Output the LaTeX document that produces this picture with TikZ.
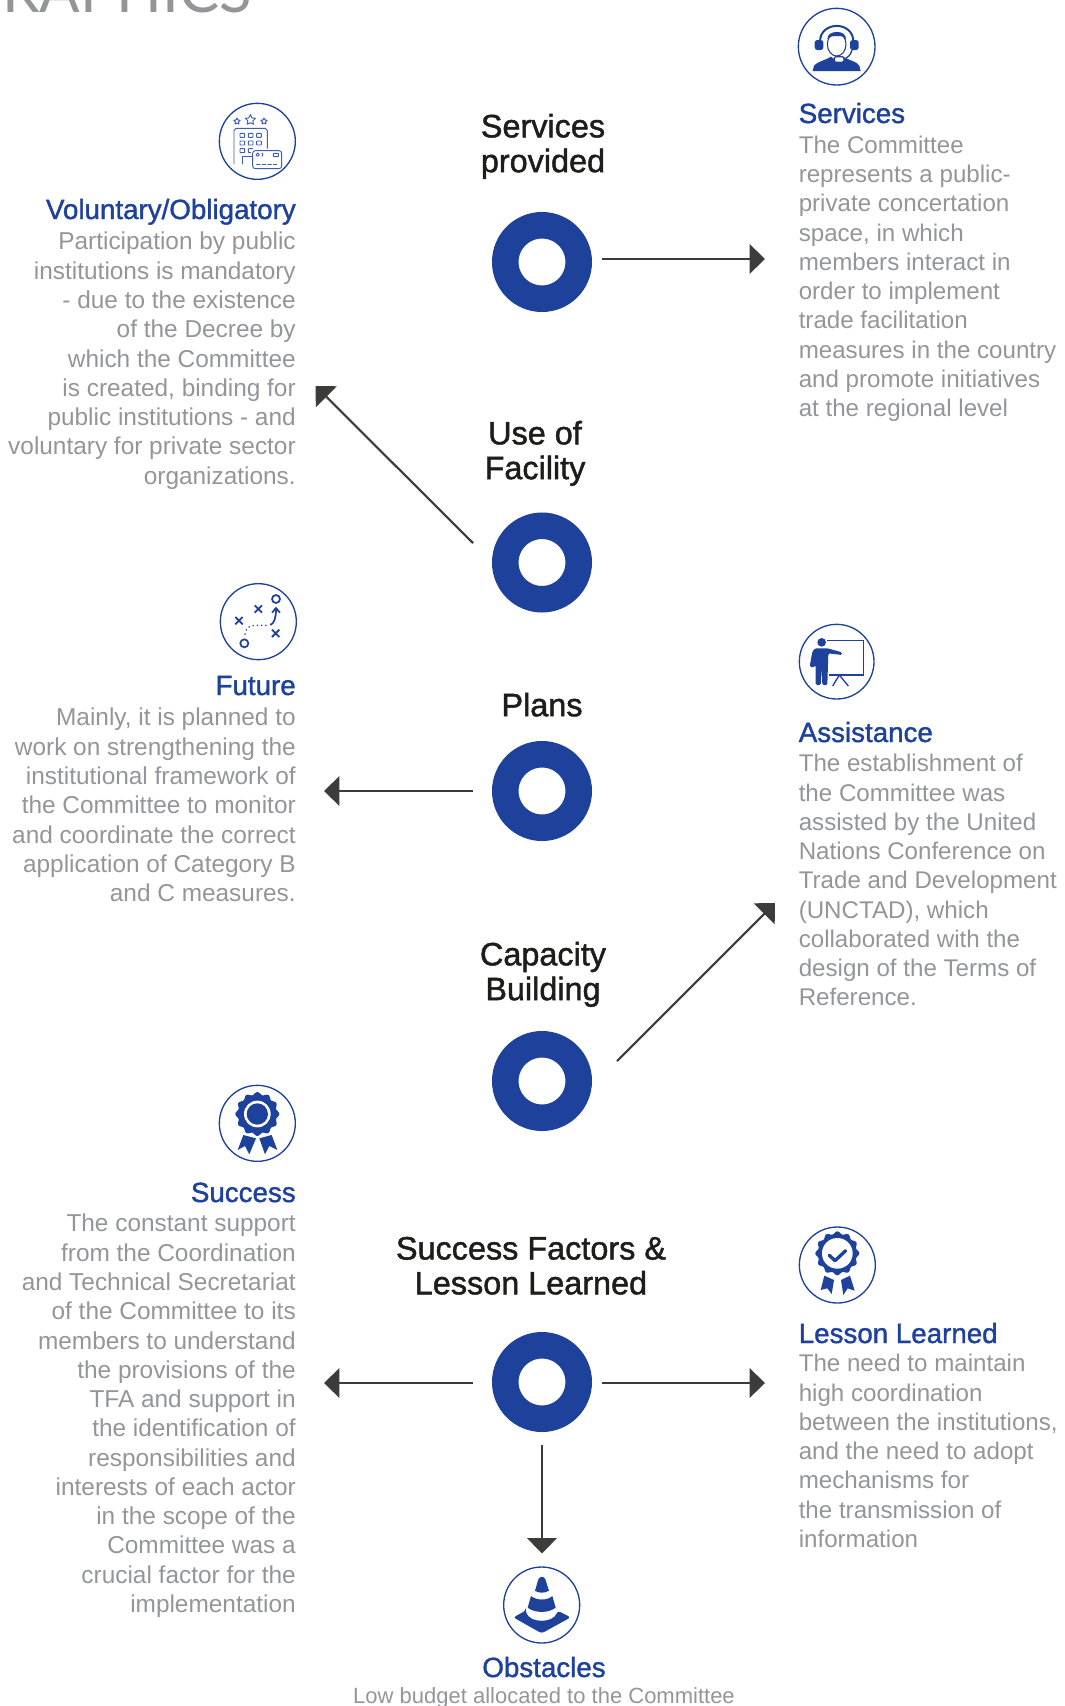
\documentclass[tikz,border=0pt]{standalone}
\usepackage{fontspec}
\usetikzlibrary{arrows.meta}
\setmainfont{Liberation Sans}
\newfontfamily\medfont[FakeBold=1.4]{Liberation Sans}
\newfontfamily\thinfont{Lato}
\definecolor{iblue}{HTML}{1E429B}
\definecolor{bodygray}{HTML}{939598}
\definecolor{headblack}{HTML}{1D1D1B}
\definecolor{arrowgray}{HTML}{3C3C3B}
\tikzset{
  x=0.75pt,y=-0.75pt,
  ring/.style={circle,draw=iblue,line width=19.9pt,fill=white,minimum size=55.1pt,inner sep=0pt,outer sep=0pt},
  linkarrow/.style={draw=arrowgray,line width=1.6pt,-{Triangle[length=11.5pt,width=22pt]}},
  bodyr/.style={anchor=north east,align=right,inner sep=0pt,text=bodygray,font=\fontsize{18.3pt}{21.95pt}\selectfont,execute at begin node=\strut},
  bodyl/.style={anchor=north west,align=left,inner sep=0pt,text=bodygray,font=\fontsize{18.1pt}{21.95pt}\selectfont,execute at begin node=\strut},
  bodyc/.style={anchor=base,inner sep=0pt,text=bodygray,font=\fontsize{16.5pt}{21.95pt}\selectfont},
  titler/.style={anchor=base east,inner sep=0pt,text=iblue,font=\medfont\fontsize{20.8pt}{24pt}\selectfont},
  titlel/.style={anchor=base west,inner sep=0pt,text=iblue,font=\medfont\fontsize{20.8pt}{24pt}\selectfont},
  titlec/.style={anchor=base,inner sep=0pt,text=iblue,font=\medfont\fontsize{20.8pt}{24pt}\selectfont},
  heading/.style={anchor=north,align=center,inner sep=0pt,text=headblack,font=\medfont\fontsize{24.3pt}{26.1pt}\selectfont,execute at begin node=\strut},
  iconframe/.style={draw=iblue,line width=1pt,fill=white},
  ifill/.style={fill=iblue,draw=none},
  thinline/.style={draw=iblue!85!white,line width=0.7pt,line join=round,line cap=round},
  crop/.style={shift={#1},x=0.25pt,y=-0.25pt},
}
\begin{document}
\begin{tikzpicture}
\useasboundingbox (0,0) rectangle (1064,1706);
\clip (0,0) rectangle (1064,1706);
% cropped page title
\node[anchor=base west,inner sep=0pt,text=bodygray,font=\thinfont\fontsize{45pt}{45pt}\selectfont] (pagetitle) at (-42,12.5) {GRAPHICS};
% rings
\node[ring] (r1) at (542,262) {};
\node[ring] (r2) at (542,562.5) {};
\node[ring] (r3) at (542,791) {};
\node[ring] (r4) at (542,1081) {};
\node[ring] (r5) at (542,1382) {};
% headings (top = baseline - 0.7 baselineskip)
\node[heading] (h1) at (543,113.6) {Services\\provided};
\node[heading] (h2) at (535,420.6) {Use of\\Facility};
\node[heading] (h3) at (542,691.6) {Plans};
\node[heading] (h4) at (543,941.6) {Capacity\\Building};
\node[heading] (h5) at (531,1236.6) {Success Factors \&\\Lesson Learned};
% free ends
\coordinate (e1) at (765,259);
\coordinate (e2) at (315.5,386);
\coordinate (e3) at (324,791);
\coordinate (e4) at (775,903);
\coordinate (e5l) at (324,1383);
\coordinate (e5r) at (765,1383);
\coordinate (e5d) at (542,1553.5);
% connectors
\draw[linkarrow] ([shift={(60,-3)}]r1.center) -- (e1);
\draw[linkarrow] ([shift={(-69,-19.5)}]r2.center) -- (e2);
\draw[linkarrow] ([shift={(-69,0)}]r3.center) -- (e3);
\draw[linkarrow] ([shift={(75,-20)}]r4.center) -- (e4);
\draw[linkarrow] ([shift={(-69,1)}]r5.center) -- (e5l);
\draw[linkarrow] ([shift={(60,1)}]r5.center) -- (e5r);
\draw[linkarrow] ([shift={(0,63)}]r5.center) -- (e5d);
% text blocks
\node[titler] (tv) at (296,219) {Voluntary/Obligatory};
\node[bodyr] (bv) at (296,232) {Participation by public\\institutions is mandatory\\- due to the existence\\of the Decree by\\which the Committee\\is created, binding for\\public institutions - and\\voluntary for private sector\\organizations.};
\node[titler] (tf) at (296,695) {Future};
\node[bodyr] (bf) at (296,708) {Mainly, it is planned to\\work on strengthening the\\institutional framework of\\the Committee to monitor\\and coordinate the correct\\application of Category B\\and C measures.};
\node[titler] (ts) at (296,1202) {Success};
\node[bodyr] (bs) at (296,1214) {The constant support\\from the Coordination\\and Technical Secretariat\\of the Committee to its\\members to understand\\the provisions of the\\TFA and support in\\the identification of\\responsibilities and\\interests of each actor\\in the scope of the\\Committee was a\\crucial factor for the\\implementation};
\node[titlel] (tsv) at (798.5,123) {Services};
\node[bodyl] (bsv) at (798.5,135.5) {The Committee\\represents a public-\\private concertation\\space, in which\\members interact in\\order to implement\\trade facilitation\\measures in the country\\and promote initiatives\\at the regional level};
\node[titlel] (ta) at (798.5,742) {Assistance};
\node[bodyl] (ba) at (798.5,754) {The establishment of\\the Committee was\\assisted by the United\\Nations Conference on\\Trade and Development\\(UNCTAD), which\\collaborated with the\\design of the Terms of\\Reference.};
\node[titlel] (tl) at (798.5,1343) {Lesson Learned};
\node[bodyl] (bl) at (798.5,1354) {The need to maintain\\high coordination\\between the institutions,\\and the need to adopt\\mechanisms for\\the transmission of\\information};
\node[titlec] (to) at (544,1677) {Obstacles};
\node[bodyc] (bo) at (544,1703) {Low budget allocated to the Committee};
% icon: voluntary
\begin{scope}[crop={(0,0)}]
\draw[iconframe] (772,424) circle (114);
\foreach \c/\R in {711/10,751/16,792/10}{
  \draw[thinline] plot[samples=11,domain=0:360] ({\c+(mod(round(\x/36),2)==0 ? \R : 0.5*\R)*sin(\x)},{(\R==16?360:364)-(mod(round(\x/36),2)==0 ? \R : 0.5*\R)*cos(\x)});
}
\draw[thinline] (702,492)--(702,392) to[out=-90,in=180] (708,385)--(796,385) to[out=0,in=-90] (802,392)--(802,445);
\foreach \a in {727,752,777}\foreach \b in {406,429}{\draw[thinline,rounded corners=0.4pt] (\a-7,\b-6) rectangle (\a+7,\b+6);}
\draw[thinline,rounded corners=0.4pt] (720,446) rectangle (734,458);
\draw[thinline,rounded corners=0.4pt] (758,446)--(745,446)--(745,458)--(752,458);
\draw[thinline] (727,492)--(727,470)--(757,470);
\draw[thinline,rounded corners=2pt] (758,452) rectangle (845,506);
\draw[thinline] (773,464) circle (5);
\draw[thinline] (786,459) to[out=-20,in=20] (786,469);
\draw[thinline,rounded corners=0.4pt] (820,460) rectangle (835,470);
\draw[thinline,dash pattern=on 2.6pt off 1.6pt] (770,494)--(835,494);
\end{scope}
% icon: services
\begin{scope}[crop={(780,0)}]
\draw[iconframe] (170,140) circle (115);
\fill[iblue] (98,213) -- (102,197) .. controls (110,185) and (140,180) .. (152,170) -- (170,182) -- (188,170) .. controls (205,180) and (232,185) .. (238,197) -- (242,213) -- cycle;
\draw[draw=iblue,fill=white,line width=0.8pt] (170,133) ellipse (28 and 35);
\fill[iblue] (142,118) .. controls (142,102) and (155,96) .. (172,96) .. controls (188,96) and (198,104) .. (198,118) .. controls (190,108) and (180,107) .. (170,108) .. controls (160,107) and (150,109) .. cycle;
\draw[iblue,line width=1.5pt] (120,125) .. controls (120,62) and (220,62) .. (220,125);
\fill[iblue,rounded corners=2pt] (104,120) rectangle (130,150);
\fill[iblue,rounded corners=2pt] (210,120) rectangle (236,150);
\draw[iblue,line width=1pt] (216,150) .. controls (212,165) and (205,172) .. (190,178);
\draw[draw=iblue,fill=white,line width=1pt,rounded corners=1.5pt] (163,170) rectangle (192,187);
\end{scope}
% icon: future
\begin{scope}[crop={(200,570)}]
\draw[iconframe] (175,155) circle (114);
\foreach \a/\b in {175/117,117/152,227/190}{
  \draw[iblue,line width=1.4pt] (\a-11,\b-11)--(\a+11,\b+11) (\a-11,\b+11)--(\a+11,\b-11);
}
\draw[iblue,line width=1.3pt] (228,87) circle (12);
\draw[iblue,line width=1.3pt] (133,220) circle (12);
\draw[iblue,line width=1.3pt] (211,165) .. controls (222,160) and (228,145) .. (228,118);
\draw[iblue,line width=1.3pt] (216,128)--(228,114)--(240,128);
\draw[iblue,line width=1.3pt,line cap=round,dash pattern=on 0pt off 3.2pt] (135,192) .. controls (138,175) and (148,165) .. (165,166) -- (205,166);
\end{scope}
% icon: assistance
\begin{scope}[crop={(780,610)}]
\draw[iconframe] (170,155) circle (112);
\fill[iblue] (125,97) circle (13);
\fill[iblue,rounded corners=1pt] (105,115) -- (143,115) -- (186,127) -- (186,135) -- (145,130) -- (142,225) -- (127,225) -- (125,175) -- (122,225) -- (107,225) -- (107,165) -- (100,173) -- (89,170) -- (97,125) -- cycle;
\draw[iblue,line width=1.2pt] (142,91)--(250,91)--(250,195)--(148,195);
\draw[iblue,line width=1pt] (178,195)--(158,228) (178,195)--(205,228);
\end{scope}
% icon: success
\begin{scope}[crop={(200,1070)}]
\draw[iconframe] (172,160) circle (114);
\fill[iblue] (130,195)--(168,205)--(148,253)--(135,228)--(113,240)--cycle;
\fill[iblue] (178,205)--(215,195)--(232,240)--(208,228)--(195,253)--cycle;
\fill[iblue] plot[smooth cycle,samples=96,domain=0:356.25] ({172+(62+4*cos(12*\x))*cos(\x)},{132+(62+4*cos(12*\x))*sin(\x)});
\fill[white] (172,132) circle (40);
\fill[iblue] (172,132) circle (32);
\end{scope}
% icon: lesson
\begin{scope}[crop={(780,1210)}]
\draw[iconframe] (172,165) circle (114);
\fill[iblue] (133,197)--(162,210)--(155,252)--(142,235)--(122,240)--cycle;
\fill[iblue] (183,210)--(210,197)--(224,242)--(203,235)--(190,255)--cycle;
\fill[iblue] plot[smooth cycle,samples=96,domain=0:356.25] ({172+(62+4*cos(12*\x))*cos(\x)},{130+(62+4*cos(12*\x))*sin(\x)});
\fill[white] (172,130) circle (46);
\draw[iblue,line width=2.5pt,line cap=round,line join=round] (148,136)--(165,152)--(197,122);
\end{scope}
% icon: obstacles
\begin{scope}[crop={(340,1540)}]
\draw[iconframe] (605,195) circle (114);
\fill[ifill] (585,152) -- (595,118) .. controls (600,108) and (612,108) .. (616,118) -- (627,152) .. controls (615,160) and (595,160) .. cycle;
\fill[ifill] (573,168) .. controls (590,182) and (622,182) .. (637,168) -- (647,203) .. controls (625,220) and (585,220) .. (563,203) -- cycle;
\fill[ifill,rounded corners=2pt] (557,212) -- (520,232) -- (605,280) -- (692,232) -- (653,212) .. controls (640,250) and (570,250) .. cycle;
\end{scope}
\end{tikzpicture}
\end{document}
